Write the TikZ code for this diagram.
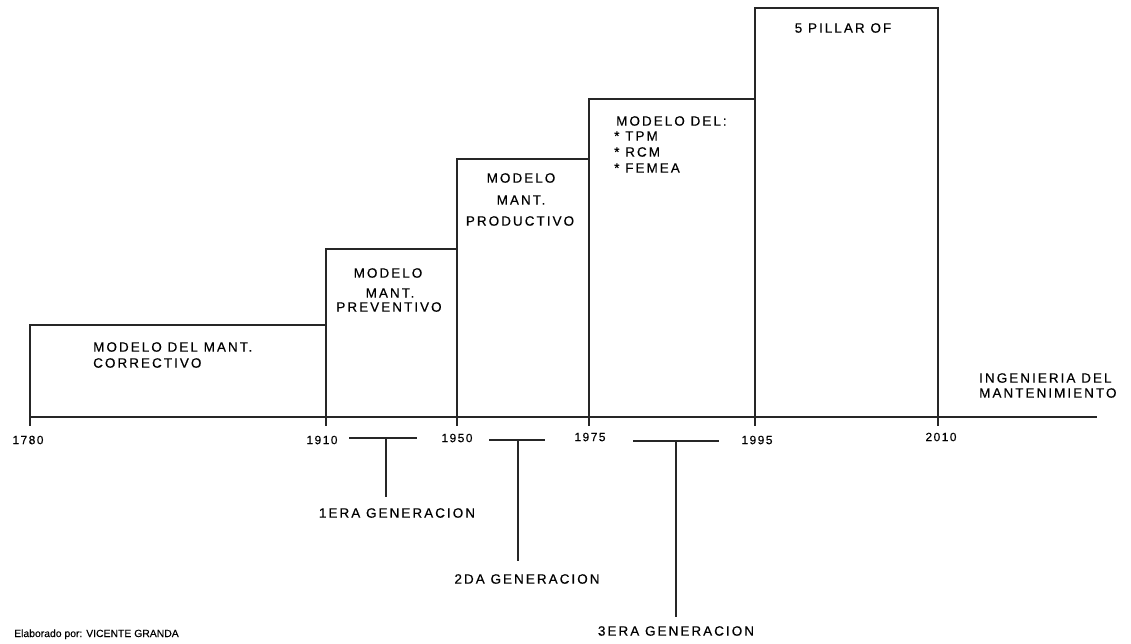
\documentclass[tikz,border=0pt]{standalone}
\usepackage{fontspec}
\setmainfont{Liberation Sans}
\newfontfamily\capsfont[LetterSpace=15,FakeBold=0.4]{Liberation Sans}
\newfontfamily\yrfont[LetterSpace=12,FakeBold=0.4]{Liberation Sans}
\newfontfamily\authfont[FakeBold=0.3]{Liberation Sans}
\begin{document}
\begin{tikzpicture}[x=1pt,y=-1pt,
  line/.style={line width=1.3pt,draw=black!85},
  lab/.style={inner sep=0pt,font=\capsfont\fontsize{13.5}{15}\selectfont},
  yr/.style={inner sep=0pt,font=\yrfont\fontsize{12}{13}\selectfont},
  gen/.style={inner sep=0pt,font=\capsfont\fontsize{13.5}{15}\selectfont}]
\useasboundingbox (0,0) rectangle (1131,643);
% axis
\coordinate (a0) at (30,417);
\coordinate (a1) at (1097,417);
\draw[line] (a0) -- (a1);
% ticks
\foreach \x in {30,326,457,589,755,938}{\draw[line] (\x,417) -- (\x,426);}
% boxes
\draw[line] (30,417) |- (326,325);
\draw[line] (326,417) |- (457,249);
\draw[line] (457,417) |- (589,159);
\draw[line] (589,417) |- (755,99);
\draw[line] (755,417) |- (938,8) -- (938,417);
% years
\node[yr] (y1780) at (28,440) {1780};
\node[yr] (y1910) at (322,440) {1910};
\node[yr] (y1950) at (457,438) {1950};
\node[yr] (y1975) at (590,437) {1975};
\node[yr] (y1995) at (757,440) {1995};
\node[yr] (y2010) at (941,437) {2010};
% box texts
\node[lab,anchor=west] (b1a) at (93,347) {MODELO DEL MANT.};
\node[lab,anchor=west] (b1b) at (93,363) {CORRECTIVO};
\node[lab] (b2a) at (388,273) {MODELO};
\node[lab] (b2b) at (390,293) {MANT.};
\node[lab] (b2c) at (389,307) {PREVENTIVO};
\node[lab] (b3a) at (521,178) {MODELO};
\node[lab] (b3b) at (521,200) {MANT.};
\node[lab] (b3c) at (520,221) {PRODUCTIVO};
\node[lab,anchor=west] (b4a) at (616,121) {MODELO DEL:};
\node[lab,anchor=west] (b4b) at (614,136) {* TPM};
\node[lab,anchor=west] (b4c) at (614,152) {* RCM};
\node[lab,anchor=west] (b4d) at (614,168) {* FEMEA};
\node[lab] (b5) at (843,28) {5 PILLAR OF};
\node[lab,anchor=west] (ing1) at (979,378) {INGENIERIA DEL};
\node[lab,anchor=west] (ing2) at (979,393) {MANTENIMIENTO};
% generations
\coordinate (g1l) at (349,438); \coordinate (g1r) at (417,438); \coordinate (g1m) at (386,438);
\coordinate (g2l) at (489,440); \coordinate (g2r) at (545,440); \coordinate (g2m) at (518,440);
\coordinate (g3l) at (633,441); \coordinate (g3r) at (719,441); \coordinate (g3m) at (676,441);
\node[gen] (g1) at (397,513) {1ERA GENERACION};
\node[gen] (g2) at (527,579) {2DA GENERACION};
\node[gen] (g3) at (676,631) {3ERA GENERACION};
\draw[line] (g1l) -- (g1r);
\draw[line] (g2l) -- (g2r);
\draw[line] (g3l) -- (g3r);
\draw[line] (g1m) -- (g1m |- 0,497);
\draw[line] (g2m) -- (g2m |- 0,561);
\draw[line] (g3m) -- (g3m |- 0,617);
% author
\node[inner sep=0pt,anchor=base west,font=\authfont\fontsize{10.4}{12}\selectfont] (auth) at (14,637) {Elaborado por: VICENTE GRANDA};
\end{tikzpicture}
\end{document}
